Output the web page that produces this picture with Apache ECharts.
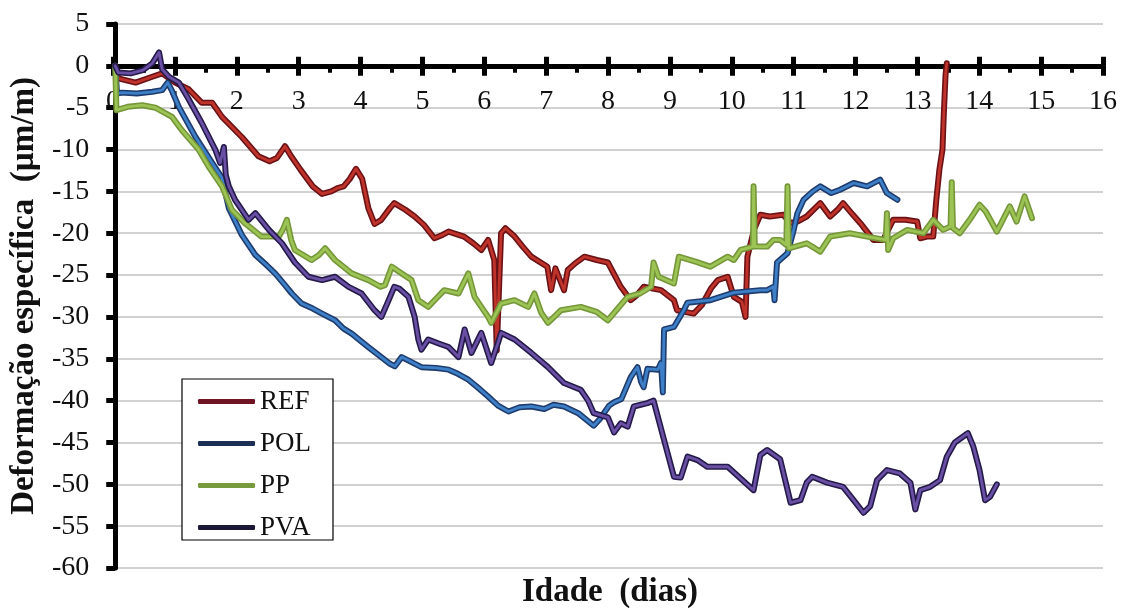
<!DOCTYPE html>
<html>
<head>
<meta charset="utf-8">
<script src="https://cdn.jsdelivr.net/npm/echarts@6/dist/echarts.min.js"></script>
<style>
  html, body { margin: 0; padding: 0; background: #fff; }
  #chart { width: 1121px; height: 608px; }
</style>
</head>
<body>
<div id="chart"></div>
<script>
// Specific strain (µm/m) against age (days), one [day, strain] list per mix.
const REF = [
  [0,0],[0.05,-1.5],[0.33,-2],[0.6,-1.3],[0.76,-0.9],[0.97,-2],[1.19,-2.8],[1.4,-4.4],[1.57,-4.4],
  [1.73,-6.1],[2.05,-8.5],[2.32,-10.8],[2.5,-11.4],[2.62,-11],
  [2.75,-9.6],[2.85,-10.8],[3.0,-12.4],[3.2,-14.4],[3.35,-15.3],[3.5,-15.0],[3.6,-14.6],[3.7,-14.4],
  [3.8,-13.5],[3.9,-12.3],[4.0,-13.5],[4.1,-17.0],[4.2,-18.9],[4.31,-18.4],[4.45,-17.0],[4.52,-16.4],
  [4.7,-17.2],[4.85,-18.0],[5.0,-19.0],[5.17,-20.6],[5.3,-20.2],[5.4,-19.8],[5.65,-20.4],[5.8,-21.2],
  [5.93,-22],[6.04,-20.8],[6.14,-23.2],[6.18,-34],[6.22,-26],[6.25,-20],[6.32,-19.4],[6.47,-20.4],
  [6.6,-21.6],[6.74,-22.8],[7.0,-24],[7.06,-26.8],[7.13,-24.2],[7.2,-25.5],[7.27,-26.8],[7.33,-24.4],
  [7.45,-23.6],[7.6,-22.8],[7.8,-23.2],[7.98,-23.5],[8.19,-26.4],[8.35,-28],[8.45,-27.4],
  [8.56,-26.4],[8.84,-26.8],[9.05,-28],[9.1,-29.2],[9.37,-29.6],[9.5,-28.6],[9.65,-26.6],[9.76,-25.6],
  [9.92,-25.2],[10.02,-27.6],[10.15,-28.2],[10.21,-30],[10.24,-22.8],[10.35,-19.5],[10.45,-17.8],
  [10.6,-18],[10.82,-17.8],[10.94,-18.8],[11.05,-18.6],[11.2,-18],[11.42,-16.4],[11.58,-18],[11.7,-17.2],
  [11.79,-16.4],[11.95,-17.8],[12.07,-18.8],[12.28,-20.8],[12.44,-20.8],[12.6,-18.4],[12.8,-18.4],
  [12.99,-18.6],[13.04,-20.6],[13.15,-20.4],[13.25,-20.4],[13.3,-16],[13.35,-12.4],[13.4,-10],
  [13.42,-6],[13.45,-1],[13.47,0.3]
];
const POL = [
  [0,0],[0.03,-3.3],[0.11,-3.2],[0.35,-3.3],[0.6,-3.1],[0.76,-2.9],[0.85,-2.0],[0.92,-3.0],[1.03,-4.9],
  [1.3,-8.5],[1.57,-11.6],[1.73,-13.4],[1.84,-17.0],[2.05,-20.2],[2.27,-22.6],[2.45,-23.8],
  [2.59,-24.8],[2.75,-26.2],[2.86,-27.2],[3.02,-28.4],[3.2,-29.0],[3.35,-29.6],[3.56,-30.4],[3.7,-31.4],
  [3.83,-32],[4.1,-33.6],[4.31,-34.8],[4.45,-35.6],[4.53,-35.9],[4.64,-34.8],[4.8,-35.4],[4.96,-36],
  [5.2,-36.1],[5.4,-36.3],[5.55,-36.8],[5.72,-37.5],[5.9,-38.6],[6.04,-39.5],[6.2,-40.6],[6.37,-41.3],
  [6.55,-40.8],[6.74,-40.7],[6.95,-41.0],[7.1,-40.5],[7.27,-40.7],[7.5,-41.5],[7.75,-43],[7.85,-42.2],
  [8.0,-40.6],[8.08,-40.2],[8.2,-39.8],[8.35,-37.2],[8.46,-36],[8.52,-37.8],[8.56,-38.4],[8.62,-36.2],
  [8.79,-36.3],[8.84,-35.5],[8.87,-39],[8.89,-31.5],[9.05,-31.2],[9.21,-29.2],[9.27,-28.3],[9.64,-28],
  [10.02,-27.1],[10.45,-26.8],[10.56,-26.8],[10.66,-26.4],[10.68,-28],[10.72,-23.5],[10.89,-22.4],
  [10.99,-19.6],[11.05,-17.6],[11.15,-16],[11.3,-15.0],[11.42,-14.4],[11.6,-15.2],[11.74,-14.8],
  [11.96,-14],[12.18,-14.4],[12.39,-13.6],[12.5,-15.2],[12.67,-16]
];
const PP = [
  [0,0],[0.02,-5.3],[0.2,-4.9],[0.44,-4.7],[0.65,-5.0],[0.92,-6.1],[1.08,-7.7],[1.35,-10],[1.51,-12],
  [1.73,-14.4],[1.89,-17.2],[2.1,-18.8],[2.37,-20.4],[2.65,-20.4],[2.72,-19.5],[2.78,-18.4],[2.85,-20.8],
  [2.91,-22],[3.18,-23.2],[3.3,-22.6],[3.4,-21.8],[3.56,-23.2],[3.83,-24.8],[4.1,-25.6],[4.3,-26.4],
  [4.37,-26.2],[4.48,-24],[4.64,-24.8],[4.8,-25.6],[4.91,-28],[5.07,-28.8],[5.2,-27.8],[5.33,-26.8],
  [5.56,-27.2],[5.72,-24.8],[5.82,-27.6],[6.04,-30],[6.09,-30.7],[6.25,-28.4],[6.47,-28],[6.69,-28.8],
  [6.79,-27.2],[6.9,-29.5],[7.01,-30.7],[7.22,-29.2],[7.54,-28.8],[7.8,-29.4],[7.98,-30.4],[8.3,-27.6],
  [8.5,-27.2],[8.68,-26.4],[8.72,-23.5],[8.8,-25.2],[9.05,-26],[9.13,-22.8],[9.4,-23.4],[9.64,-24],
  [9.92,-22.8],[10.02,-23.2],[10.13,-22],[10.33,-21.6],[10.34,-14.4],[10.36,-21.6],[10.56,-21.6],
  [10.66,-20.8],[10.77,-20.8],[10.87,-21.4],[10.89,-14.4],[10.91,-21.8],[10.94,-22],[11.2,-21.2],
  [11.42,-22.2],[11.58,-20.4],[11.9,-20],[12.18,-20.4],[12.48,-20.8],[12.5,-17.6],[12.52,-22],
  [12.6,-20.6],[12.83,-19.6],[13.09,-20],[13.25,-18.4],[13.41,-19.6],[13.53,-19.2],[13.55,-13.9],
  [13.57,-19.4],[13.68,-20],[13.84,-18.4],[14.0,-16.6],[14.1,-17.4],[14.28,-19.8],[14.49,-16.8],
  [14.6,-18.6],[14.73,-15.6],[14.85,-18.2]
];
const PVA = [
  [0,0],[0.05,-0.8],[0.25,-0.9],[0.45,-0.5],[0.6,0.3],[0.71,1.6],[0.76,-0.4],[0.87,-1.3],[1.03,-2],
  [1.19,-4],[1.4,-6.8],[1.62,-10],[1.7,-11.6],[1.76,-9.7],[1.79,-13],[1.84,-14.4],[1.94,-16],[2.16,-18.4],
  [2.27,-17.6],[2.49,-19.6],[2.7,-21.2],[2.91,-23.5],[3.13,-25.2],[3.35,-25.6],[3.56,-25.2],[3.78,-26.4],
  [3.99,-27.2],[4.2,-29.2],[4.31,-30],[4.4,-28.5],[4.52,-26.4],[4.6,-26.6],[4.75,-27.6],[4.85,-30],
  [4.91,-32.7],[4.96,-33.9],[5.07,-32.7],[5.25,-33.2],[5.4,-33.6],[5.56,-34.8],[5.66,-31.5],[5.77,-34.3],
  [5.93,-31.9],[6.09,-35.5],[6.2,-33.1],[6.25,-31.9],[6.47,-32.7],[6.74,-34.3],[7.01,-36],[7.27,-37.9],
  [7.54,-38.7],[7.66,-40],[7.75,-41.5],[7.98,-42],[8.08,-43.8],[8.19,-42.7],[8.3,-43.1],[8.4,-40.7],
  [8.62,-40.3],[8.72,-40],[8.89,-44.7],[9.05,-49.1],[9.16,-49.2],[9.27,-46.7],[9.43,-47.1],[9.59,-47.9],
  [9.92,-47.9],[10.13,-49.3],[10.34,-50.7],[10.45,-46.5],[10.56,-45.9],[10.77,-47],[10.94,-52.2],
  [11.1,-51.9],[11.2,-49.8],[11.29,-49.1],[11.53,-49.8],[11.79,-50.3],[11.96,-51.9],[12.12,-53.4],
  [12.23,-52.6],[12.34,-49.5],[12.5,-48.3],[12.71,-48.7],[12.88,-49.8],[12.96,-53],[13.04,-50.7],
  [13.2,-50.3],[13.36,-49.5],[13.47,-46.7],[13.6,-45],[13.81,-43.9],[13.9,-45.5],[14.0,-48.3],
  [14.09,-51.9],[14.17,-51.5],[14.28,-50]
];

// Axis ranges
const X_MIN = 0, X_MAX = 16, X_STEP = 1;
const Y_MIN = -60, Y_MAX = 5, Y_STEP = 5;

const mixes = [
  { name: 'REF', data: REF, edge: '#6a1216', core: '#bf332b', key: '#701424' },
  { name: 'POL', data: POL, edge: '#1f3c6e', core: '#3d80c8', key: '#1c2f55' },
  { name: 'PP',  data: PP,  edge: '#76963a', core: '#9cc454', key: '#779a3d' },
  { name: 'PVA', data: PVA, edge: '#241a4a', core: '#6a50a4', key: '#1b1838' }
];

const FONT = '"Liberation Serif", "Times New Roman", serif';

// Plot area in pixels
const W = 1121, H = 608;
const PLOT = { left: 113, right: 18, top: 24, bottom: 40 };
const plotH = H - PLOT.top - PLOT.bottom;
// height of the strip from the top of the plot down to the zero line
const zeroBand = plotH * (Y_MAX - 0) / (Y_MAX - Y_MIN);

// Each mix is a dark outer stroke with a lighter stroke inside it.
const series = [];
mixes.forEach((m, i) => {
  series.push({
    name: m.name, type: 'line', data: m.data, xAxisIndex: 0, yAxisIndex: 0,
    showSymbol: false, symbol: 'none', silent: true, z: 10 + i * 2,
    lineStyle: { color: m.edge, width: 6, join: 'round', cap: 'round' },
    itemStyle: { color: m.key }
  });
  series.push({
    name: m.name, type: 'line', data: m.data, xAxisIndex: 0, yAxisIndex: 0,
    showSymbol: false, symbol: 'none', silent: true, z: 11 + i * 2,
    lineStyle: { color: m.core, width: 2.8, join: 'round', cap: 'round' },
    itemStyle: { color: m.key }
  });
});

const band = { left: PLOT.left, right: PLOT.right, top: PLOT.top, height: zeroBand };

const chart = echarts.init(document.getElementById('chart'), null, { renderer: 'canvas' });
chart.setOption({
  animation: false,
  backgroundColor: '#ffffff',
  grid: [
    Object.assign({ containLabel: false }, PLOT),
    Object.assign({ containLabel: false }, band),
    Object.assign({ containLabel: false }, band)
  ],
  xAxis: [
    { // scale for the curves
      gridIndex: 0, type: 'value', min: X_MIN, max: X_MAX, interval: X_STEP, show: false
    },
    { // age axis on the zero line: lower ticks, half-day ticks and labels
      gridIndex: 1, type: 'value', min: X_MIN, max: X_MAX, interval: X_STEP, position: 'bottom',
      axisLine: { show: true, onZero: false, lineStyle: { color: '#000', width: 5 } },
      axisTick: { show: true, inside: false, length: 10, lineStyle: { color: '#000', width: 5 } },
      minorTick: { show: true, splitNumber: 2, length: 7, lineStyle: { color: '#000', width: 4 } },
      axisLabel: { show: true, color: '#111', fontFamily: FONT, fontSize: 28, margin: 22 },
      splitLine: { show: false }
    },
    { // upper half of the whole-day ticks
      gridIndex: 2, type: 'value', min: X_MIN, max: X_MAX, interval: X_STEP, position: 'bottom',
      axisLine: { show: false, onZero: false },
      axisTick: { show: true, inside: true, length: 9, lineStyle: { color: '#000', width: 5 } },
      axisLabel: { show: false },
      splitLine: { show: false }
    }
  ],
  yAxis: [
    {
      gridIndex: 0, type: 'value', min: Y_MIN, max: Y_MAX, interval: Y_STEP,
      name: 'Deformação específica  (µm/m)', nameLocation: 'middle', nameGap: 65, nameRotate: 90,
      nameTextStyle: { color: '#111', fontFamily: FONT, fontSize: 33, fontWeight: 'bold' },
      axisLine: { show: true, onZero: false, lineStyle: { color: '#000', width: 5 } },
      axisTick: { show: true, inside: false, length: 9, lineStyle: { color: '#000', width: 5 } },
      axisLabel: { color: '#111', fontFamily: FONT, fontSize: 28, margin: 26 },
      splitLine: { show: true, lineStyle: { color: '#c2c2c2', width: 1.5 } }
    },
    { gridIndex: 1, type: 'value', min: 0, max: 1, show: false },
    { gridIndex: 2, type: 'value', min: 0, max: 1, show: false }
  ],
  legend: {
    orient: 'vertical', left: 182, top: 381, z: 5,
    backgroundColor: 'transparent', borderWidth: 0,
    padding: [7, 21, 5, 16], itemGap: 15, itemWidth: 57, itemHeight: 5,
    icon: 'roundRect',
    selectedMode: false,
    textStyle: { color: '#111', fontFamily: FONT, fontSize: 27, lineHeight: 26 },
    data: mixes.map(m => ({ name: m.name, itemStyle: { color: m.key } }))
  },
  graphic: [
    { // legend frame
      type: 'rect', z: 3, silent: true,
      shape: { x: 182, y: 379, width: 151, height: 161 },
      style: { fill: '#ffffff', stroke: '#000', lineWidth: 1.2 }
    },
    {
      type: 'text', x: 610, y: 592, z: 5, silent: true,
      style: {
        text: 'Idade  (dias)', fill: '#111', font: 'bold 33px ' + FONT,
        textAlign: 'center', textVerticalAlign: 'middle'
      }
    }
  ],
  series: series
});
</script>
</body>
</html>
